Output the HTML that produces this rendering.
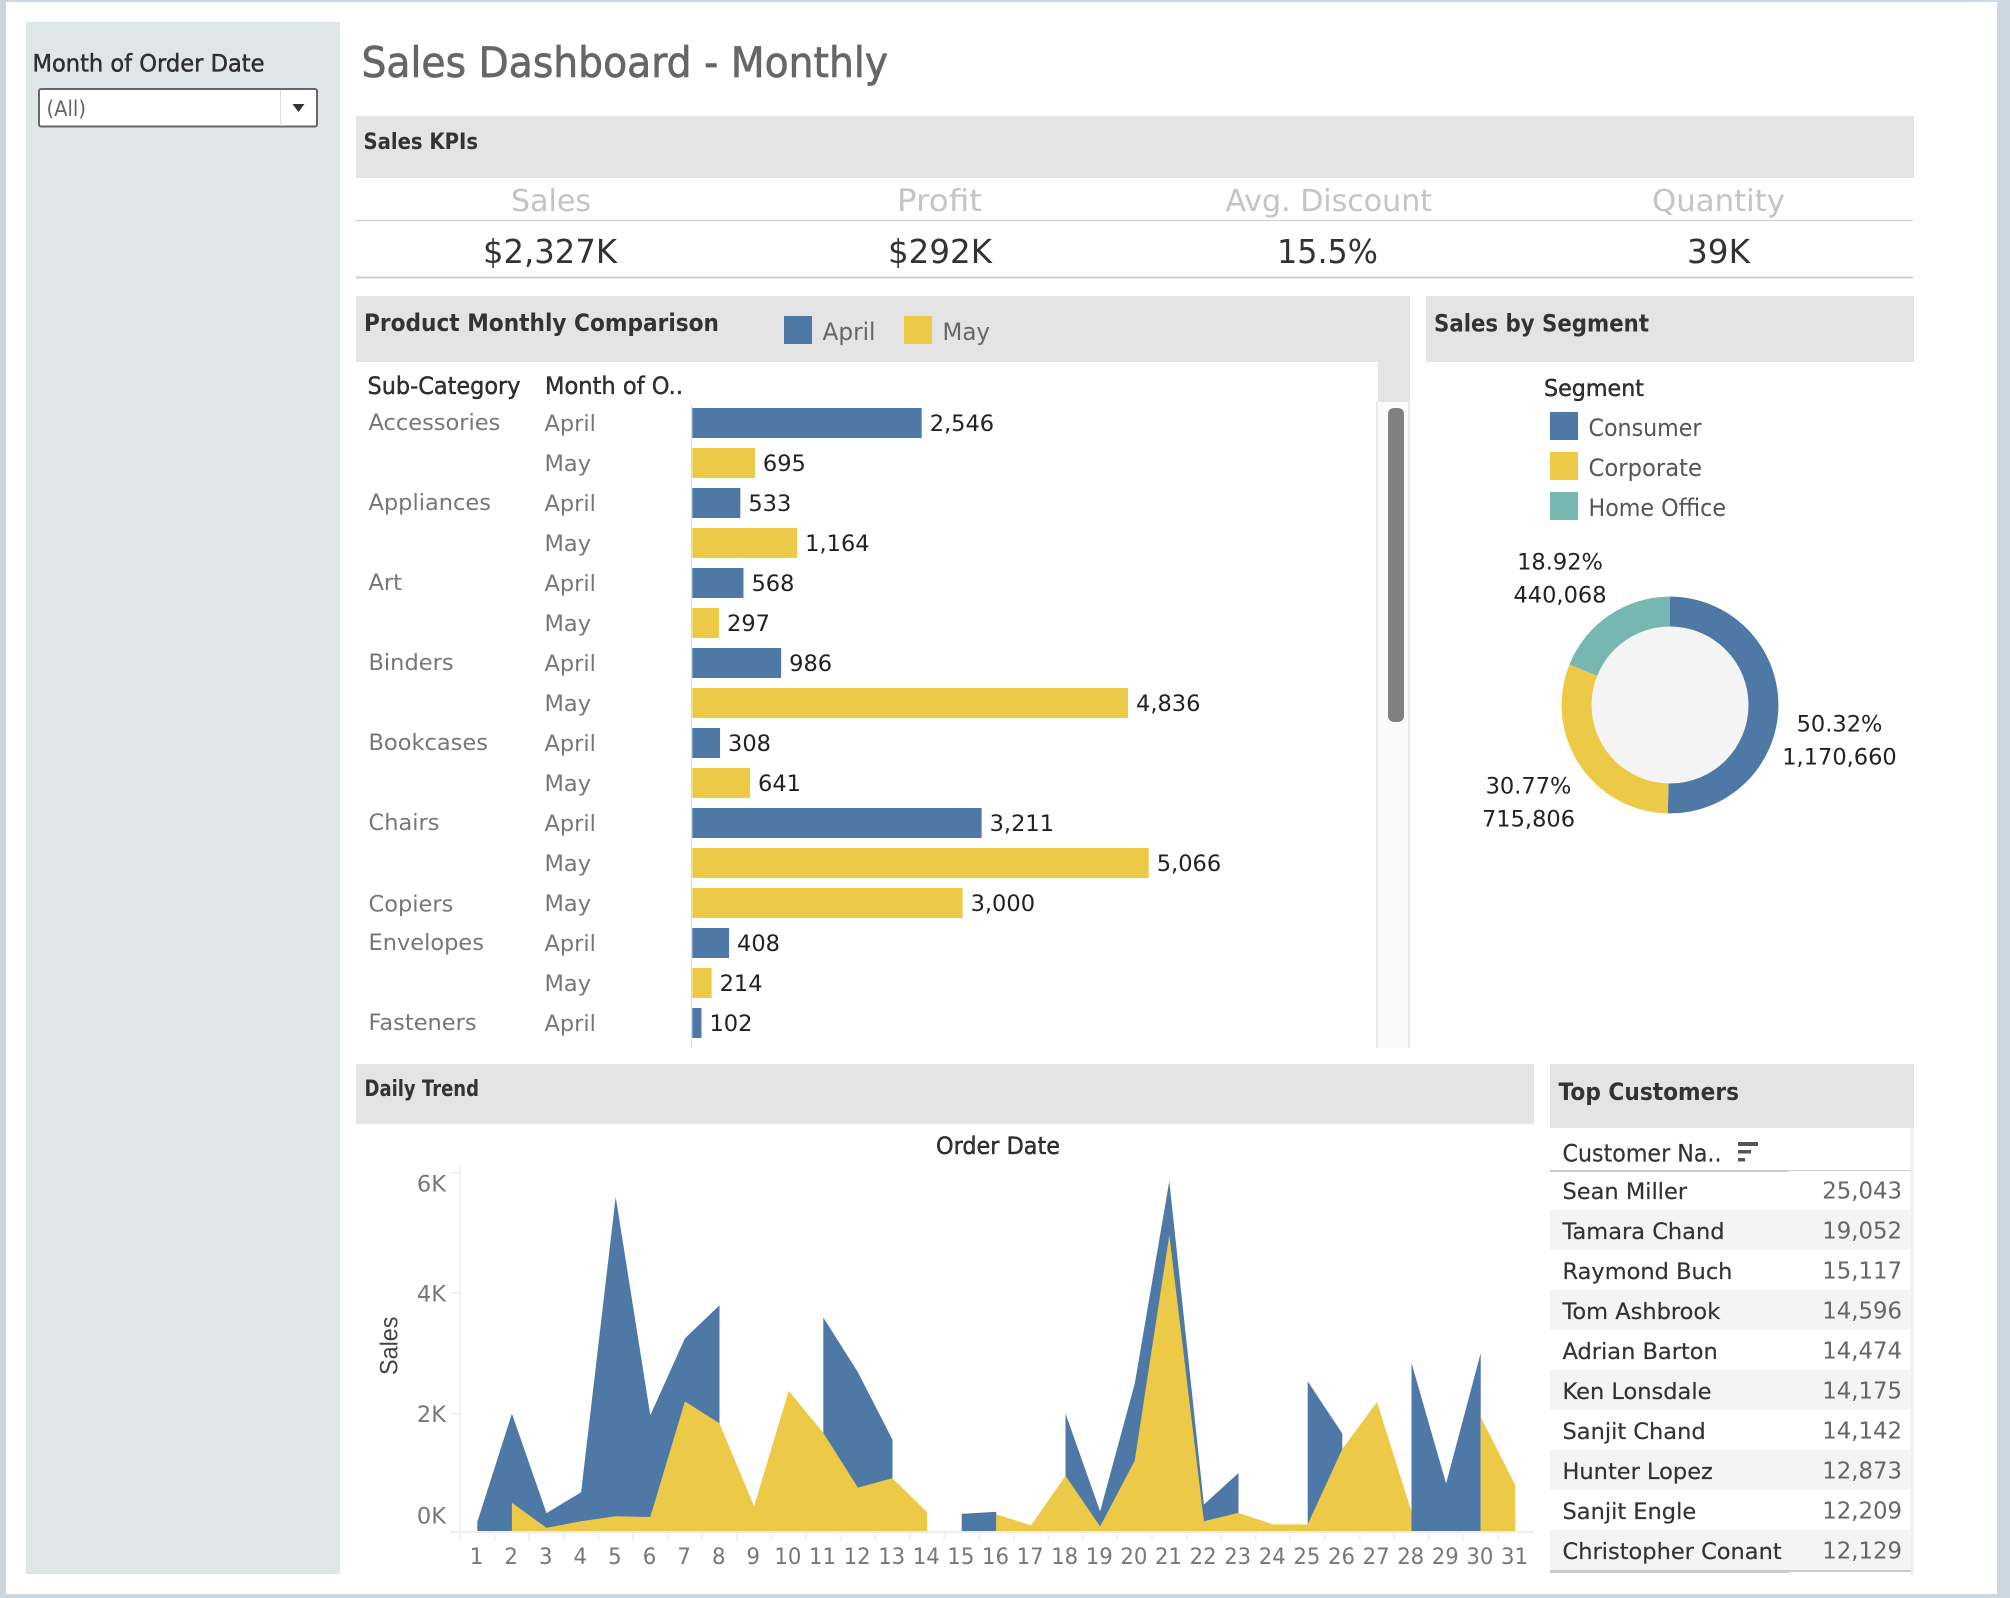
<!DOCTYPE html>
<html lang="en">
<head>
<meta charset="utf-8">
<title>Sales Dashboard - Monthly</title>
<style>
html,body{margin:0;padding:0;background:#fff;width:2010px;height:1598px;overflow:hidden}
svg{display:block;font-family:"DejaVu Sans","Liberation Sans",sans-serif}
.semi{stroke:currentColor;stroke-width:.35px}
</style>
</head>
<body>
<svg id="dash" xmlns="http://www.w3.org/2000/svg" width="2010" height="1598" viewBox="0 0 2010 1598">
  <rect x="0" y="0" width="2010" height="1598" fill="#ffffff"/>
  <rect x="0" y="0" width="2010" height="2" fill="#cbd8e2"/>
  <rect x="0" y="0" width="6" height="1598" fill="#cdd6dc"/>
  <rect x="1997" y="0" width="13" height="1598" fill="#cbd8e2"/>
  <rect x="0" y="1594" width="2010" height="4" fill="#cbd8e2"/>

  <rect x="26" y="22" width="314" height="1552" fill="#dfe6e8"/>
  <text class="semi" x="32.5" y="71.5" font-size="24" fill="#333" textLength="232" lengthAdjust="spacingAndGlyphs">Month of Order Date</text>
  <g>
    <rect x="39" y="89" width="278" height="37.5" rx="2" fill="#fff" stroke="#666" stroke-width="2"/>
    <line x1="280.5" y1="90" x2="280.5" y2="126" stroke="#ddd" stroke-width="1"/>
    <text x="46.5" y="116" font-size="21" fill="#666" textLength="39.5" lengthAdjust="spacingAndGlyphs">(All)</text>
    <polygon points="292.5,104 304.5,104 298.5,112" fill="#333"/>
  </g>

  <text x="361.5" y="77" font-size="42" fill="#666" stroke="#666" stroke-width=".7" textLength="526.5" lengthAdjust="spacingAndGlyphs">Sales Dashboard - Monthly</text>

  <rect x="356" y="116" width="1558" height="62" fill="#e4e4e4"/>
  <text x="363.5" y="149" font-size="22" font-weight="700" fill="#333" textLength="114.5" lengthAdjust="spacingAndGlyphs">Sales KPIs</text>
  <text x="511" y="211" font-size="30" fill="#c4c4c4" textLength="80" lengthAdjust="spacingAndGlyphs">Sales</text>
  <text x="897" y="211" font-size="30" fill="#c4c4c4" textLength="85" lengthAdjust="spacingAndGlyphs">Profit</text>
  <text x="1225.5" y="211" font-size="30" fill="#c4c4c4" textLength="206.5" lengthAdjust="spacingAndGlyphs">Avg. Discount</text>
  <text x="1652" y="211" font-size="30" fill="#c4c4c4" textLength="133" lengthAdjust="spacingAndGlyphs">Quantity</text>
  <line x1="356" y1="220.5" x2="1913" y2="220.5" stroke="#ccc" stroke-width="1"/>
  <text x="483" y="263" font-size="33" fill="#333" textLength="134" lengthAdjust="spacingAndGlyphs">$2,327K</text>
  <text x="888" y="263" font-size="33" fill="#333" textLength="104" lengthAdjust="spacingAndGlyphs">$292K</text>
  <text x="1277" y="263" font-size="33" fill="#333" textLength="101" lengthAdjust="spacingAndGlyphs">15.5%</text>
  <text x="1687" y="263" font-size="33" fill="#333" textLength="63" lengthAdjust="spacingAndGlyphs">39K</text>
  <line x1="356" y1="277.5" x2="1913" y2="277.5" stroke="#ccc" stroke-width="2"/>

  <rect x="356" y="296" width="1054" height="66" fill="#e4e4e4"/>
  <text x="364" y="331" font-size="24" font-weight="700" fill="#333" textLength="355" lengthAdjust="spacingAndGlyphs">Product Monthly Comparison</text>
  <rect x="784" y="316" width="28" height="28" fill="#4e79a7"/>
  <text x="822.5" y="340" font-size="24" fill="#666" textLength="53" lengthAdjust="spacingAndGlyphs">April</text>
  <rect x="904" y="316" width="28" height="28" fill="#edc948"/>
  <text x="942.5" y="340" font-size="24" fill="#666" textLength="47.5" lengthAdjust="spacingAndGlyphs">May</text>

  <rect x="1378" y="362" width="32" height="40" fill="#e4e4e4"/>
  <rect x="1376" y="402" width="34" height="646" fill="#fafafa"/>
  <rect x="1376" y="402" width="2" height="646" fill="#e8e8e8"/>
  <rect x="1408" y="402" width="2" height="646" fill="#e8e8e8"/>
  <rect x="1388" y="408" width="16" height="314" rx="6" fill="#808080"/>

  <text class="semi" x="367.5" y="394" font-size="24" fill="#333" textLength="153" lengthAdjust="spacingAndGlyphs">Sub-Category</text>
  <text class="semi" x="545" y="394" font-size="24" fill="#333" textLength="138" lengthAdjust="spacingAndGlyphs">Month of O..</text>
  <g id="barChart"></g>

  <rect x="1426" y="296" width="488" height="66" fill="#e4e4e4"/>
  <text x="1434" y="331.5" font-size="24" font-weight="700" fill="#333" textLength="215" lengthAdjust="spacingAndGlyphs">Sales by Segment</text>
  <text class="semi" x="1544" y="396" font-size="23" fill="#333" textLength="100" lengthAdjust="spacingAndGlyphs">Segment</text>
  <rect x="1550" y="412" width="28" height="28" fill="#4e79a7"/>
  <text x="1588.5" y="436" font-size="24" fill="#555" textLength="113" lengthAdjust="spacingAndGlyphs">Consumer</text>
  <rect x="1550" y="452" width="28" height="28" fill="#edc948"/>
  <text x="1588.5" y="476" font-size="24" fill="#555" textLength="113.5" lengthAdjust="spacingAndGlyphs">Corporate</text>
  <rect x="1550" y="492" width="28" height="28" fill="#76b7b2"/>
  <text x="1588.5" y="516" font-size="24" fill="#555" textLength="137.5" lengthAdjust="spacingAndGlyphs">Home Office</text>
  <g id="donutChart"></g>

  <rect x="356" y="1064" width="1178" height="60" fill="#e4e4e4"/>
  <text x="364.5" y="1096" font-size="22" font-weight="700" fill="#333" textLength="114.5" lengthAdjust="spacingAndGlyphs">Daily Trend</text>
  <text class="semi" x="936" y="1154" font-size="24" fill="#333" textLength="124" lengthAdjust="spacingAndGlyphs">Order Date</text>
  <text x="0" y="0" font-size="25" fill="#444" transform="translate(397.5 1375) rotate(-90)" textLength="58.5" lengthAdjust="spacingAndGlyphs" font-family="Liberation Sans, sans-serif">Sales</text>
  <g id="areaChart"></g>

  <rect x="1550" y="1064" width="364" height="64" fill="#e4e4e4"/>
  <text x="1558.5" y="1100" font-size="24" font-weight="700" fill="#333" textLength="180.5" lengthAdjust="spacingAndGlyphs">Top Customers</text>
  <line x1="1912" y1="1128" x2="1912" y2="1575" stroke="#eeeeee" stroke-width="3"/>
  <text x="1562.5" y="1161.5" font-size="24" fill="#333" stroke="#333" stroke-width=".2" textLength="159" lengthAdjust="spacingAndGlyphs">Customer Na..</text>
  <g>
    <rect x="1738" y="1142" width="20" height="4" fill="#555"/>
    <rect x="1738" y="1150" width="13" height="3.5" fill="#555"/>
    <rect x="1738" y="1158" width="7" height="3.5" fill="#555"/>
  </g>
  <g id="customerTable"></g>
  <rect x="1789" y="1170" width="122" height="1" fill="#ccc"/>
  <rect x="1550" y="1170" width="239" height="2" fill="#ccc"/>
  <rect x="1550" y="1570" width="239" height="3" fill="#ccc"/>
  <rect x="1789" y="1570" width="122" height="2" fill="#ccc"/>
</svg>

<script>
// Product bar chart data
const subCategories = ['Accessories', 'Appliances', 'Art', 'Binders', 'Bookcases', 'Chairs', 'Copiers', 'Envelopes', 'Fasteners'];
const aprilSales = [2546, 533, 568, 986, 308, 3211, null, 408, 102];
const maySales = [695, 1164, 297, 4836, 641, 5066, 3000, 214, null];

// Segment donut data
const segmentNames = ['Consumer', 'Corporate', 'Home Office'];
const segmentSales = [1170660, 715806, 440068];
const segmentShareLabels = ['50.32%', '30.77%', '18.92%'];
const segmentSalesLabels = ['1,170,660', '715,806', '440,068'];

// Daily trend data (day of month 1..31, null = no orders that day)
const dayLabels = ['1', '2', '3', '4', '5', '6', '7', '8', '9', '10', '11', '12', '13', '14', '15', '16', '17', '18', '19', '20', '21', '22', '23', '24', '25', '26', '27', '28', '29', '30', '31'];
const aprilDaily = [150, 1950, 296, 644, 5550, 1922, 3199, 3751, null, null, 3547, 2640, 1515, null, 284, 319, null, 1951, 325, 2444, 5812, 441, 964, null, 2485, 1620, null, 2793, 790, 2955, null];
const mayDaily = [null, 470, 52, 162, 244, 232, 2154, 1788, 412, 2328, 1631, 720, 877, 313, null, 279, 93, 917, 75, 1167, 4912, 162, 302, 110, 110, 1360, 2142, 325, null, 1893, 760];
const salesTickValues = [0, 2000, 4000, 6000];
const salesTickLabels = ['0K', '2K', '4K', '6K'];

// Top customers data
const customerNames = ['Sean Miller', 'Tamara Chand', 'Raymond Buch', 'Tom Ashbrook', 'Adrian Barton', 'Ken Lonsdale', 'Sanjit Chand', 'Hunter Lopez', 'Sanjit Engle', 'Christopher Conant'];
const customerSales = [25043, 19052, 15117, 14596, 14474, 14175, 14142, 12873, 12209, 12129];

const NS = 'http://www.w3.org/2000/svg';
const BLUE = '#4e79a7';
const GOLD = '#edc948';

function make(tag, parent, props, text) {
  const el = document.createElementNS(NS, tag);
  for (const k in props) el.setAttribute(k, props[k]);
  if (text !== undefined) el.textContent = text;
  parent.appendChild(el);
  return el;
}
function fmt(v) { return v.toLocaleString('en-US'); }
function slug(s) { return s.toLowerCase().replace(/[^a-z0-9]+/g, '-'); }

/* ---------- bar chart ---------- */
function barX(v) { return 692.3 + v * 0.0901; }
function rowTop(r) { return 408 + r * 40; }

(function drawBars() {
  const root = document.getElementById('barChart');
  const defs = make('defs', root, {});
  const clip = make('clipPath', defs, { id: 'barClip' });
  make('rect', clip, { x: 356, y: 402, width: 1020, height: 646 });
  const g = make('g', root, { 'clip-path': 'url(#barClip)' });
  const axis = make('line', g, { x1: 691.5, y1: 405, x2: 691.5, y2: 1048, stroke: '#d8d8d8', 'stroke-width': 1 });
  
  
  let r = 0;
  subCategories.forEach(function (cat, i) {
    const single = aprilSales[i] === null || maySales[i] === null;
    const label = make('text', g, { x: 368.5, y: rowTop(r) + (single && i < 8 ? 23.5 : 22), 'font-size': 22.5, fill: '#777' }, cat);
    
    
    [['April', aprilSales[i], BLUE], ['May', maySales[i], GOLD]].forEach(function (s) {
      if (s[1] === null) return;
      const top = rowTop(r);
      const month = make('text', g, { x: 544.5, y: top + 23, 'font-size': 22.5, fill: '#777' }, s[0]);
      
      
      const bar = make('rect', g, { x: barX(0), y: top, width: barX(s[1]) - barX(0), height: 30, fill: s[2] });
      
      
      const val = make('text', g, { x: barX(s[1]) + 8, y: top + 23, 'font-size': 22.5, fill: '#222' }, fmt(s[1]));
      
      
      r++;
    });
  });
})();

/* ---------- donut ---------- */
(function drawDonut() {
  const root = document.getElementById('donutChart');
  const cx = 1670, cy = 705, R = 108.4, r0 = 78.5;
  const total = segmentSales.reduce(function (a, b) { return a + b; }, 0);
  const colors = [BLUE, GOLD, '#76b7b2'];
  const anchors = [[1839.5, 731.5], [1528.5, 793.5], [1560, 569.5]];
  let start = 0;
  segmentSales.forEach(function (v, i) {
    const end = start + v / total * Math.PI * 2;
    const large = end - start > Math.PI ? 1 : 0;
    const d = 'M' + (cx + R * Math.sin(start)) + ' ' + (cy - R * Math.cos(start)) +
      'A' + R + ' ' + R + ' 0 ' + large + ' 1 ' + (cx + R * Math.sin(end)) + ' ' + (cy - R * Math.cos(end)) + 'L' + cx + ' ' + cy + 'Z';
    const slice = make('path', root, { d: d, fill: colors[i] });
    
    
    start = end;
  });
  const hole = make('circle', root, { cx: cx, cy: cy, r: r0, fill: '#f4f4f4' });
  
  
  segmentNames.forEach(function (n, i) {
    const a = make('text', root, { x: anchors[i][0], y: anchors[i][1], 'font-size': 22.5, fill: '#222', 'text-anchor': 'middle' }, segmentShareLabels[i]);
    
    
    const b = make('text', root, { x: anchors[i][0], y: anchors[i][1] + 33, 'font-size': 22.5, fill: '#222', 'text-anchor': 'middle' }, segmentSalesLabels[i]);
    
    
  });
})();

/* ---------- area chart ---------- */
function dayX(i) { return 460 + 34.6 * (i + 0.5); }
function salesY(v) { return 1531 - v * 0.0602; }

(function drawArea() {
  const root = document.getElementById('areaChart');
  const yAxis = make('line', root, { x1: 460, y1: 1164, x2: 460, y2: 1532, stroke: '#eeeeee', 'stroke-width': 1.5 });
  
  
  const xAxis = make('line', root, { x1: 450, y1: 1532, x2: 1534, y2: 1532, stroke: '#eeeeee', 'stroke-width': 2 });
  
  
  const labelY = [1523.5, 1422, 1301.5, 1191.5];
  salesTickValues.forEach(function (v, i) {
    const t = make('line', root, { x1: 450, y1: i === 0 ? 1532 : salesY(v) + 3, x2: 460, y2: i === 0 ? 1532 : salesY(v) + 3, stroke: '#eeeeee', 'stroke-width': 1.5 });
    
    
    const l = make('text', root, { x: 446, y: labelY[i], 'font-size': 22.5, fill: '#777', 'text-anchor': 'end' }, salesTickLabels[i]);
    
    
  });
  dayLabels.forEach(function (d, i) {
    const t = make('line', root, { x1: dayX(i) - 17.3, y1: 1532, x2: dayX(i) - 17.3, y2: 1541, stroke: '#eeeeee', 'stroke-width': 1.5 });
    
    
    const l = make('text', root, { x: dayX(i) - 0.8, y: 1564, 'font-size': 22, fill: '#777', 'text-anchor': 'middle', textLength: d.length > 1 ? 27 : 13.5, lengthAdjust: 'spacingAndGlyphs' }, d);
    
    
  });
  function drawSeries(values, color, name) {
    let seg = [];
    let n = 0;
    function flush() {
      if (seg.length) {
        const pts = seg.map(function (p) { return dayX(p[0]) + ',' + salesY(p[1]); });
        pts.unshift(dayX(seg[0][0]) + ',' + salesY(0));
        pts.push(dayX(seg[seg.length - 1][0]) + ',' + salesY(0));
        n++;
        const poly = make('polygon', root, { points: pts.join(' '), fill: color });
        
        
      }
      seg = [];
    }
    values.forEach(function (v, i) {
      if (v === null) flush(); else seg.push([i, v]);
    });
    flush();
  }
  drawSeries(aprilDaily, BLUE, 'april');
  drawSeries(mayDaily, GOLD, 'may');
})();

/* ---------- customer table ---------- */
(function drawTable() {
  const root = document.getElementById('customerTable');
  customerNames.forEach(function (n, i) {
    const top = 1170 + i * 40;
    if (i % 2 === 1) {
      const band = make('rect', root, { x: 1550, y: top, width: 360, height: 40, fill: '#f4f4f4' });
      
      
    }
    const name = make('text', root, { x: 1562.5, y: top + 29, 'font-size': 22.5, fill: '#333', stroke: '#333', 'stroke-width': 0.2 }, n);
    
    
    const val = make('text', root, { x: 1902, y: top + 28.5, 'font-size': 22.8, fill: '#666', 'text-anchor': 'end' }, fmt(customerSales[i]));
    
    
  });
})();
</script>
</body>
</html>
